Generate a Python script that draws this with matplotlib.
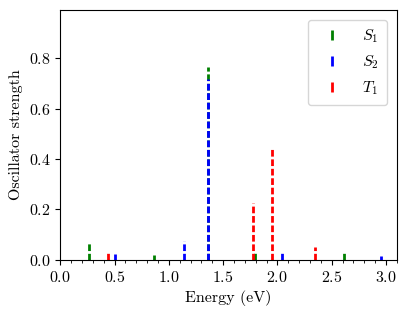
import numpy as np
import matplotlib
matplotlib.use('Agg')
import matplotlib.pyplot as plt
from matplotlib.lines import Line2D
from matplotlib.ticker import MultipleLocator

plt.rcParams['font.family'] = ['cmr10']
plt.rcParams['mathtext.fontset'] = 'cm'
plt.rcParams['axes.formatter.use_mathtext'] = True
plt.rcParams['font.size'] = 11.5

# excitation energies (eV) and oscillator strengths
s1_e = [0.264, 0.864, 1.362, 1.795, 2.613]
s1_f = [0.071, 0.019, 0.764, 0.031, 0.028]
s2_e = [0.504, 1.140, 1.359, 2.038, 2.954]
s2_f = [0.023, 0.076, 0.717, 0.029, 0.017]
t1_e = [0.440, 1.771, 1.952, 2.349]
t1_f = [0.032, 0.227, 0.445, 0.052]

dash = (0, (2.4, 1.0))
fig, ax = plt.subplots(figsize=(4.07, 3.17), dpi=100)
ax.vlines(s1_e, 0, s1_f, colors='green', linestyles=[dash], lw=2)
ax.vlines(s2_e, 0, s2_f, colors='blue', linestyles=[dash], lw=2)
ax.vlines(t1_e, 0, t1_f, colors='red', linestyles=[dash], lw=2)

handles = [Line2D([], [], color=c, marker='|', ls='', ms=7, mew=2) for c in ['green', 'blue', 'red']]
ax.legend(handles, ['$S_1$', '$S_2$', '$T_1$'], loc='upper right', handletextpad=0.9,
          handlelength=2.0, borderpad=0.5, borderaxespad=0.6)

ax.set_xlim(0, 3.1)
ax.set_ylim(0, 0.99)
ax.set_yticks([0.0, 0.2, 0.4, 0.6, 0.8])
ax.xaxis.set_minor_locator(MultipleLocator(0.1))
ax.set_xlabel('Energy (eV)')
ax.set_ylabel('Oscillator strength')
fig.subplots_adjust(left=0.148, right=0.975, top=0.968, bottom=0.18)
fig.savefig('out.png')
